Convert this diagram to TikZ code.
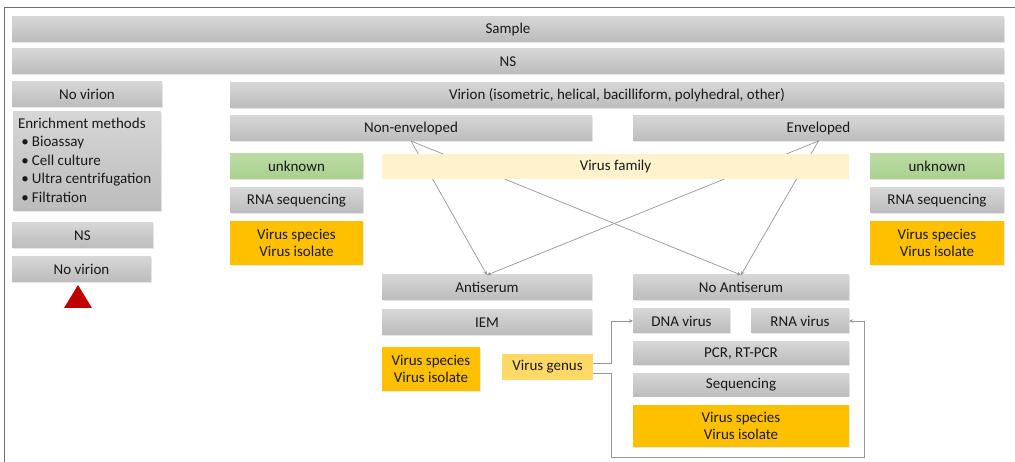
\documentclass[tikz,border=0pt]{standalone}
\usepackage{fontspec}
\setmainfont{Carlito}
\usetikzlibrary{arrows.meta,shadows}
\definecolor{gtop}{RGB}{214,214,214}
\definecolor{gbot}{RGB}{188,188,188}
\definecolor{greenbox}{RGB}{169,209,142}
\definecolor{goldbox}{RGB}{255,192,0}
\definecolor{paleyel}{RGB}{255,242,204}
\definecolor{genusyel}{RGB}{255,217,102}
\definecolor{txt}{RGB}{25,25,25}
\definecolor{conncol}{RGB}{150,150,150}
\definecolor{framecol}{RGB}{110,110,110}
\definecolor{trired}{RGB}{192,0,0}
\tikzset{
  base/.style={anchor=north west, inner sep=0pt, outer sep=0pt, font=\fontsize{15}{17.5}\selectfont, text=txt, align=center},
  gbox/.style={base, top color=gtop, bottom color=gbot, drop shadow={opacity=0.18, shadow xshift=1pt, shadow yshift=-1pt}},
  grbox/.style={base, top color=greenbox!80, bottom color=greenbox, drop shadow={opacity=0.18, shadow xshift=1pt, shadow yshift=-1pt}},
  gdbox/.style={base, fill=goldbox, drop shadow={opacity=0.18, shadow xshift=1pt, shadow yshift=-1pt}},
  pybox/.style={base, fill=paleyel},
  gnbox/.style={base, fill=genusyel},
  conn/.style={draw=conncol, line width=0.7pt, -{Stealth[length=4pt,width=3.5pt]}},
}
\newcommand{\bx}[6]{\node[#1, minimum width=#4pt, minimum height=#5pt] (#2) at (#3) {#6};}
\begin{document}
\begin{tikzpicture}[x=1pt,y=-1pt]
\useasboundingbox (0,0) rectangle (1015,462);
\draw[framecol, line width=1.4pt] (4.7,462) -- (4.7,7.5) -- (1015,7.5);

\bx{gbox}{sample}{12,17}{992}{25}{Sample}
\bx{gbox}{ns}{12,49}{992}{25}{NS}
\bx{gbox}{novirion}{12,82}{150}{25}{No virion}
\node[gbox, minimum width=148pt, minimum height=99pt] (enrich) at (13,112) {};
\node[base, align=left, anchor=north west, font=\fontsize{15}{18.5}\selectfont] (enrichtxt) at (18,118) {Enrichment methods\\\makebox[14pt][l]{~•}Bioassay\\\makebox[14pt][l]{~•}Cell culture\\\makebox[14pt][l]{~•}Ultra centrifugation\\\makebox[14pt][l]{~•}Filtration};
\bx{gbox}{ns2}{12,223}{141}{25}{NS}
\bx{gbox}{novirion2}{12,257}{139}{25}{No virion}
\fill[trired] (64,308) -- (92,308) -- (78,285) -- cycle;

\bx{gbox}{virion}{230,83}{774}{25}{Virion (isometric, helical, bacilliform, polyhedral, other)}
\bx{gbox}{nonenv}{230,116}{362}{25}{Non-enveloped}
\bx{gbox}{env}{633,116}{371}{25}{Enveloped}
\bx{grbox}{unk1}{230,154}{133}{25}{unknown}
\bx{grbox}{unk2}{870,154}{134}{25}{unknown}
\bx{gbox}{rna1}{230,188}{133}{25}{RNA sequencing}
\bx{gbox}{rna2}{870,188}{134}{25}{RNA sequencing}
\bx{gdbox}{vs1}{230,221}{133}{44}{Virus species\\Virus isolate}
\bx{gdbox}{vs2}{870,221}{134}{44}{Virus species\\Virus isolate}

\bx{gbox}{anti}{382,275}{210}{25}{Antiserum}
\bx{gbox}{noanti}{633,275}{216}{25}{No Antiserum}
\bx{gbox}{iem}{382,310}{210}{25}{IEM}
\bx{gbox}{dna}{633,309}{97}{24}{DNA virus}
\bx{gbox}{rnav}{751,309}{98}{24}{RNA virus}
\bx{gdbox}{vs3}{382,347}{98}{44}{Virus species\\Virus isolate}
\bx{gnbox}{genus}{502,354}{91}{26}{Virus genus}
\bx{gbox}{pcr}{633,342}{216}{23}{PCR, RT-PCR}
\bx{gbox}{seq}{633,373}{216}{23}{Sequencing}
\bx{gdbox}{vs4}{633,405}{216}{42}{Virus species\\Virus isolate}

\draw[conn] (nonenv.south) -- (anti.north);
\draw[conn] (nonenv.south) -- (noanti.north);
\draw[conn] (env.south) -- (anti.north);
\draw[conn] (env.south) -- (noanti.north);
\bx{pybox}{vfam}{382,154}{467}{25}{Virus family}

\coordinate (g1) at ([yshift=4pt]genus.east);
\coordinate (g2) at ([yshift=-6pt]genus.east);
\coordinate (loopBL) at (611,457);
\coordinate (loopBR) at (864,457);
\draw[conn] (g1) -| (loopBL |- dna.west) -- (dna.west);
\draw[conn] (g2) -| (loopBL) -- (loopBR) |- (rnav.east);
\end{tikzpicture}
\end{document}
